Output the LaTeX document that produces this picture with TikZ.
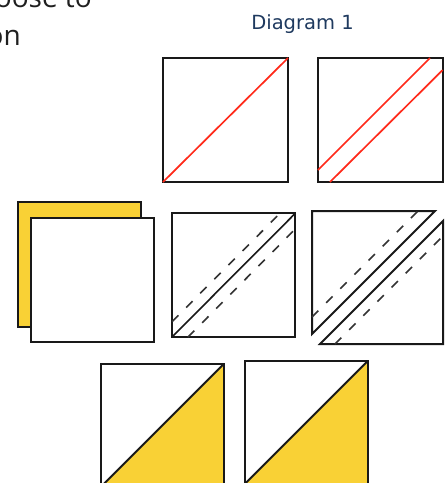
\documentclass[tikz,border=0pt]{standalone}
\usepackage{fontspec}
\newfontfamily\diagfont{DejaVu Sans}
\newfontfamily\bodyfont{Open Sans}
\definecolor{quiltyellow}{HTML}{F9D135}
\definecolor{titleblue}{HTML}{1F3A5F}
\definecolor{cutred}{HTML}{FF2A1A}
\begin{document}
\begin{tikzpicture}[x=1pt,y=-1pt,
  outline/.style={draw=black!90,line width=2pt,line join=miter},
  redcut/.style={draw=cutred,line width=1.7pt},
  seam/.style={draw=black!90,line width=1.6pt},
  seamdash/.style={draw=black!80,line width=1.6pt,dash pattern=on 9pt off 11pt},
  bodytext/.style={font=\bodyfont\fontsize{28}{30}\selectfont,text=black!88,inner sep=0pt},
  titletext/.style={font=\diagfont\fontsize{19.5}{22}\selectfont,text=titleblue,inner sep=0pt}]
\useasboundingbox (0,0) rectangle (445,483);
\clip (0,0) rectangle (445,483);
\fill[white] (0,0) rectangle (445,483);
% text fragments
\node[bodytext,anchor=base east] (t1) at (92,7) {oose to};
\node[bodytext,anchor=base east] (t2) at (21,45) {on};
\node[titletext,anchor=base] (title) at (302.5,29) {Diagram 1};
% top row
\draw[outline] (163,58) rectangle (288,182);
\draw[redcut] (163,182) -- (288,58);
\draw[outline] (318,58) rectangle (442.7,182);
\draw[redcut] (318,170) -- (430,58);
\draw[redcut] (330,182) -- (442.7,70);
% middle row: two stacked squares
\filldraw[outline,fill=quiltyellow] (17.7,202.3) rectangle (141,326.7);
\filldraw[outline,fill=white] (30.7,218.3) rectangle (154,342.3);
% middle: square with seam lines
\draw[outline] (172,213.3) rectangle (295.3,337);
\draw[seam] (172,337) -- (295.3,213.3);
\draw[seamdash] (172,321.7) -- (280,213.3);
\draw[seamdash] (188,337) -- (295.3,229);
% middle: cut apart
\draw[outline] (312,211) -- (435,211) -- (312,334) -- cycle;
\draw[outline] (443,221) -- (443,344) -- (320,344) -- cycle;
\draw[seamdash] (312,317) -- (418,211);
\draw[seamdash] (335,344) -- (443,236);
% bottom row: half-square triangles
\fill[quiltyellow] (100.7,487) -- (223.7,364) -- (223.7,487) -- cycle;
\draw[outline] (100.7,364) rectangle (223.7,487);
\draw[seam,line width=1.9pt] (100.7,487) -- (223.7,364);
\fill[quiltyellow] (245,483.7) -- (368,360.7) -- (368,483.7) -- cycle;
\draw[outline] (245,360.7) rectangle (368,483.7);
\draw[seam,line width=1.9pt] (245,483.7) -- (368,360.7);
\end{tikzpicture}
\end{document}
